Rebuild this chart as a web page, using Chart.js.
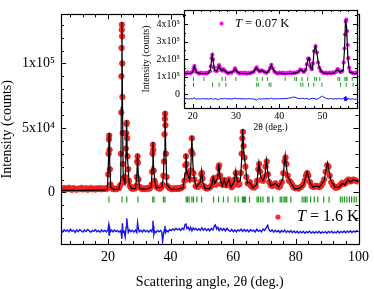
<!DOCTYPE html>
<html>
<head>
<meta charset="utf-8">
<script src="https://cdn.jsdelivr.net/npm/chart.js@4/dist/chart.umd.min.js"></script>
<style>
  body { margin: 0; background: #fff; }
  #wrap { position: relative; width: 374px; height: 289px; }
  canvas { display: block; }
  #inset { position: absolute; left: 138px; top: 0; }
</style>
</head>
<body>
<div id="wrap">
  <canvas id="main" width="374" height="289"></canvas>
  <canvas id="inset" width="226" height="136"></canvas>
</div>
<script>
// ---- main pattern, T = 1.6 K (intensity in thousands of counts) ----
const obsMain = [
  [5,3.1],[5.5,2.4],[6,3.4],[6.5,2.2],[7,2.9],[7.5,3.6],[8,2.5],[8.5,2.1],[9,3.3],[9.5,2.7],[10,2.0],[10.5,3.0],
  [11,2.6],[11.5,3.5],[12,2.3],[12.5,2.8],[13,3.2],[13.5,2.1],[14,2.7],[14.5,3.4],[15,2.4],[15.5,2.9],[16,2.2],
  [16.5,3.1],[17,2.6],[17.5,3.3],[18,2.4],[18.5,2.9],[19,3.0],[19.5,2.6],
  [19.9,3.5],[20.1,14],[20.2,30],[20.3,41],[20.4,44],[20.5,33],[20.6,18],[20.8,6],[21.2,3.4],[21.6,2.6],[22,2.9],
  [22.5,2.4],[23,3.1],[23.5,3.3],[23.9,5.5],[24.15,30],[24.25,62],[24.3,90],[24.35,112],[24.4,126],[24.45,130],
  [24.5,121],[24.55,100],[24.6,74],[24.7,46],[24.8,22],[24.95,11],[25.2,8],[25.5,12],[25.7,34],[25.8,46],[25.9,53],
  [26.0,54],[26.1,42],[26.25,28],[26.45,18],[26.7,9],[27.0,5],[27.4,3.5],[27.8,2.8],[28.2,3.4],[28.6,3.0],[29.0,5],
  [29.2,12],[29.35,24],[29.45,28],[29.55,23],[29.75,10],[30.0,4.5],[30.5,3.2],[31,2.6],[31.5,3.1],[32,2.5],[32.5,3.3],
  [33,2.8],[33.5,3.6],[33.9,6],[34.1,16],[34.25,30],[34.35,37],[34.45,33],[34.6,17],[34.85,9],[35.1,7],[35.5,4.2],
  [36,3.5],[36.5,2.9],[37,3.8],[37.4,6],[37.7,13],[37.9,24],[38.05,45],[38.15,57],[38.25,61],[38.35,52],[38.5,30],
  [38.7,12],[39,5],[39.5,3.6],[40,3],[40.5,2.5],[41,3.2],[41.5,2.7],[42,3.4],[42.5,2.6],[43,3.1],[43.5,3.6],[44,4.5],
  [44.4,9],[44.7,21],[44.9,28],[45.1,22],[45.4,14],[45.7,12],[46.1,10],[46.4,17],[46.6,32],[46.8,42],[47,30],[47.3,15],
  [47.6,10],[48,5],[48.5,4.3],[49,4.6],[49.5,8],[49.8,14],[50,15],[50.2,11],[50.6,5],[51,3.8],[51.5,3.0],[52,3.4],
  [52.5,3.8],[53,5.2],[53.4,9],[53.7,11],[54,8],[54.5,6],[55,12],[55.3,19],[55.5,21],[55.8,13],[56.2,6.5],[56.6,6],
  [57,9.5],[57.3,9],[57.8,5.5],[58.2,7],[58.6,10],[59,7],[59.5,4],[60,5.5],[60.4,10],[60.8,15],[61.2,10],[61.6,6],
  [62,6.5],[62.4,15],[62.7,30],[62.9,42],[63.1,47],[63.3,36],[63.6,27],[63.9,20],[64.2,12],[64.6,7],[65,7],[65.3,8],
  [65.7,5],[66.2,4],[66.7,3.8],[67.2,5],[67.6,9],[68,18],[68.3,22],[68.6,16],[69,10],[69.5,9],[69.9,12],[70.3,20],
  [70.7,24],[71.1,14],[71.5,8],[72,5.5],[72.5,5],[73,6],[73.5,7],[74,5],[74.5,4],[75,5],[75.5,8],[76,15],[76.4,24],
  [76.7,27],[77,22],[77.4,13],[77.8,9],[78.3,8],[78.8,6],[79.3,4],[79.8,3.2],[80.3,3.6],[80.8,3.0],[81.3,3.8],
  [81.8,4.5],[82.3,6],[82.8,9],[83.2,13],[83.6,15],[84,13],[84.5,8],[85,5],[85.5,4.2],[86,4.6],[86.5,5.2],[87,4.5],
  [87.5,4.1],[88,5],[88.5,7],[89,10],[89.5,16],[90,21],[90.4,20],[90.8,13],[91.3,8],[91.8,5.5],[92.3,4.3],[92.8,3.6],
  [93.3,4],[93.8,4.8],[94.3,6],[94.8,7.5],[95.3,6.5],[95.8,7],[96.3,9],[96.8,10],[97.3,8.5],[97.8,9],[98.3,10],
  [98.8,9.5],[99.3,9],[99.8,8.5]
];
const calcMain = [
  [5,1.5],[8,1.5],[12,1.6],[16,1.7],[19,1.8],[19.8,2.5],[20.15,23],[20.35,46],[20.55,23],[20.9,4],[22,2.2],[23.5,2.6],
  [24.1,10],[24.25,66],[24.45,132],[24.65,66],[24.85,12],[25.4,7],[25.75,28],[25.95,56],[26.15,30],[26.5,17],[26.8,6],
  [27.5,3],[28.8,3],[29.25,15],[29.45,30],[29.65,15],[30.1,3],[32,2.3],[33.8,4],[34.15,20],[34.35,39],[34.55,20],
  [35.0,8],[35.5,3.5],[37.2,4],[37.7,12],[37.95,32],[38.2,63],[38.45,32],[38.8,6],[40,2.5],[42,2.2],[44,3.5],
  [44.6,15],[44.9,30],[45.2,17],[45.6,13],[46.1,9],[46.5,22],[46.8,44],[47.1,22],[47.5,11],[48.2,4],[49.5,8],
  [49.9,17],[50.3,8],[51,3],[52.5,3],[53.2,6],[53.6,12],[54.1,7],[55,11],[55.4,22],[55.8,11],[56.5,5],[57.1,10],
  [57.7,5],[58.6,10],[59.3,4],[60.3,8],[60.8,17],[61.3,8],[62.3,9],[62.7,26],[63.0,49],[63.4,30],[63.9,21],[64.5,7],
  [65.3,8],[66.2,3.5],[67.5,6],[68.2,23],[68.8,12],[69.5,9],[70.1,13],[70.6,25],[71.2,12],[72,5],[73.5,7],[74.5,4],
  [75.8,10],[76.6,29],[77.3,13],[78.3,8],[79.5,3],[81,3],[82.5,6],[83.6,16],[84.6,7],[85.5,4],[86.5,5],[87.5,4],
  [89,9],[90.1,23],[91.1,10],[92.5,4],[93.8,4],[94.8,7],[95.7,6],[96.6,10],[97.5,8],[98.3,10],[99.2,9],[100,8]
];
const diffMain = [
  [5,-29.5],[5.5,-30.8],[6,-28.9],[6.5,-30.2],[7,-29.1],[7.5,-30.6],[8,-28.6],[8.5,-30.1],[9,-29.3],[9.5,-31],
  [10,-29],[10.5,-30.4],[11,-28.8],[11.5,-29.9],[12,-30.7],[12.5,-29.2],[13,-30.3],[13.5,-28.7],[14,-29.8],[14.5,-30.9],
  [15,-29.4],[15.5,-30.2],[16,-28.9],[16.5,-30.5],[17,-29.6],[17.5,-30.8],[18,-29.1],[18.5,-30.3],[19,-29.5],
  [19.5,-30.6],[20,-29],[20.2,-26],[20.35,-33],[20.5,-27],[20.8,-30.5],[21.2,-29.3],[21.6,-30.6],[22,-29.2],
  [22.5,-30.4],[23,-29.5],[23.5,-30.8],[24,-29.7],[24.3,-33],[24.45,-36],[24.6,-24],[24.8,-31],[25.1,-29.4],
  [25.5,-34.5],[25.8,-27],[26.0,-20],[26.2,-25],[26.5,-31],[26.9,-29],[27.3,-30.5],[27.8,-29.4],[28.3,-30.8],
  [28.8,-29.2],[29.2,-31],[29.45,-23.5],[29.7,-28],[30,-30.5],[30.5,-29.3],[31,-30.7],[31.5,-29],[32,-30.5],
  [32.5,-29.5],[33,-30.8],[33.5,-29.2],[34,-30.5],[34.2,-28],[34.35,-22],[34.5,-26],[34.65,-32.5],[34.9,-30],
  [35.3,-31.2],[35.8,-29.5],[36.3,-30.6],[36.8,-29.4],[37.2,-31],[37.45,-38],[37.7,-33],[38.0,-29],[38.2,-26],
  [38.4,-31],[38.7,-29.5],[39.2,-30.6],[39.7,-28.8],[40.2,-29.6],[40.7,-28.4],[41.2,-29.3],[41.7,-27.8],[42.2,-29.1],
  [42.7,-28.2],[43.2,-29.4],[43.7,-27.6],[44.2,-28.9],[44.6,-25],[44.9,-24],[45.2,-28],[45.6,-27],[46,-29.2],
  [46.4,-27.1],[46.8,-29.8],[47.2,-27.5],[47.6,-28.9],[48,-27.8],[48.5,-29.3],[49,-28.1],[49.5,-29.4],[50,-27.4],
  [50.5,-29.2],[51,-28],[51.5,-29.6],[52,-28.2],[52.5,-29.7],[53,-27.9],[53.5,-29.1],[54,-26],[54.3,-25.2],
  [54.7,-28.5],[55.1,-27],[55.5,-29.6],[56,-27.7],[56.5,-29.4],[57,-28],[57.5,-29.8],[58,-27.8],[58.5,-29.3],
  [59,-30.2],[59.5,-28.7],[60,-30.4],[60.5,-29.1],[61,-30.6],[61.5,-28.9],[62,-29.9],[62.5,-28.5],[63,-30.3],
  [63.5,-28.7],[64,-30.2],[64.5,-29],[65,-30.6],[65.5,-28.8],[66,-30],[66.5,-29.2],[67,-30.7],[67.5,-28.6],
  [68,-30.1],[68.5,-29.3],[69,-30.6],[69.5,-28.4],[70,-29.5],[70.5,-27.5],[71,-25.5],[71.4,-28.9],[71.9,-30.3],
  [72.4,-29.1],[72.9,-30.8],[73.4,-29.3],[73.9,-30.5],[74.4,-29.6],[74.9,-31.1],[75.4,-29.5],[75.9,-30.7],
  [76.4,-29.2],[76.9,-31],[77.4,-29.8],[77.9,-30.9],[78.4,-29.6],[78.9,-31.2],[79.4,-30],[79.9,-31.3],[80.4,-30.1],
  [80.9,-31.5],[81.4,-30.3],[81.9,-31.4],[82.4,-30.2],[82.9,-31.6],[83.4,-30.4],[83.9,-31.2],[84.4,-30.1],
  [84.9,-31.5],[85.4,-30.4],[85.9,-31.7],[86.4,-30.5],[86.9,-31.4],[87.4,-30.2],[87.9,-31.6],[88.4,-30.6],
  [88.9,-31.3],[89.4,-30.4],[89.9,-31.6],[90.4,-30.3],[90.9,-31.2],[91.4,-30.1],[91.9,-31.5],[92.4,-30.5],
  [92.9,-31.3],[93.4,-30],[93.9,-31.4],[94.4,-30.3],[94.9,-31.1],[95.4,-29.9],[95.9,-31.2],[96.4,-30.1],
  [96.9,-30.9],[97.4,-29.8],[97.9,-31.1],[98.4,-30],[98.9,-30.8],[99.4,-29.7],[99.9,-30.5]
];
const braggMain = [20.3,24.5,26.0,29.6,34.3,34.7,37.7,38.2,45.0,45.4,45.9,46.8,47.3,48.4,49.9,53.7,55.3,56.9,58.3,
  60.6,61.6,62.9,63.3,63.6,63.9,65.2,67.6,68.1,68.8,69.5,71.0,71.4,72.6,75.0,75.5,76.2,76.6,77.1,78.4,82.0,82.6,
  83.1,83.6,84.7,85.9,87.0,88.9,90.6,94.2,94.8,95.5,96.3,97.1,97.8,98.6,99.3];
const braggMainLevel = -5.5;
const xTicksMain = [20, 40, 60, 80, 100];
const yTicksMain = [0, 50, 100];
const yLabelsMain = ['0', '5x10\u2074', '1x10\u2075'];

// ---- inset, T = 0.07 K ----
const obsInset = [
  [18.0,122],[18.4,115],[18.8,124],[19.2,118],[19.6,121],[20.0,128],[20.2,146],[20.4,160],[20.6,141],[20.8,127],
  [21.2,121],[21.6,116],[22.0,123],[22.4,118],[22.8,121],[23.2,116],[23.6,124],[24.0,130],[24.2,158],[24.4,205],
  [24.55,224],[24.7,196],[24.9,152],[25.2,133],[25.6,131],[25.9,152],[26.1,165],[26.3,149],[26.6,136],[26.9,133],
  [27.1,143],[27.4,135],[27.8,124],[28.2,119],[28.6,123],[29.0,121],[29.4,130],[29.8,147],[30.1,133],[30.5,122],
  [30.9,117],[31.3,123],[31.7,118],[32.1,122],[32.5,116],[32.9,121],[33.3,119],[33.7,124],[34.1,126],[34.5,143],
  [34.8,152],[35.1,138],[35.5,129],[35.9,135],[36.3,131],[36.7,124],[37.1,121],[37.5,130],[37.9,148],[38.2,167],
  [38.5,147],[38.9,128],[39.3,121],[39.7,117],[40.1,123],[40.5,118],[40.9,122],[41.3,116],[41.7,121],[42.1,119],
  [42.5,124],[42.9,118],[43.3,122],[43.7,120],[44.1,125],[44.5,128],[44.9,141],[45.3,136],[45.7,126],[46.1,138],
  [46.4,170],[46.7,203],[46.95,198],[47.2,158],[47.5,142],[47.8,175],[48.1,245],[48.4,272],[48.7,238],[49.0,180],
  [49.3,150],[49.6,132],[50.0,124],[50.4,119],[50.8,123],[51.2,117],[51.6,122],[52.0,118],[52.4,124],[52.8,121],
  [53.2,128],[53.5,142],[53.8,136],[54.2,126],[54.6,131],[54.9,180],[55.1,260],[55.25,340],[55.4,415],[55.55,425],
  [55.7,360],[55.85,280],[56.0,205],[56.2,150],[56.5,127],[56.9,121],[57.3,118],[57.7,123],[58.0,119]
];
const calcInset = [
  [18,117],[19.5,118],[20.0,125],[20.25,145],[20.4,158],[20.55,145],[20.9,124],[22,117],[23.5,118],[24.1,135],
  [24.35,190],[24.55,222],[24.75,185],[25.1,135],[25.6,130],[25.9,150],[26.1,162],[26.35,145],[26.8,134],[27.1,141],
  [27.45,132],[28.2,120],[29.4,128],[29.8,145],[30.2,127],[31,118],[33,117],[34.2,128],[34.7,150],[35.0,140],
  [35.5,128],[36.0,134],[36.4,128],[37.2,122],[37.8,140],[38.2,165],[38.6,140],[39.3,120],[41,117],[43,118],
  [44.2,122],[45.0,140],[45.7,125],[46.2,140],[46.6,195],[46.9,207],[47.3,150],[47.7,140],[48.1,250],[48.45,275],
  [48.8,220],[49.2,160],[49.7,130],[50.5,118],[52.5,118],[53.5,140],[54.1,125],[54.8,135],[55.1,250],[55.35,425],
  [55.6,380],[55.9,200],[56.3,125],[57.2,118],[58,117]
];
const diffInset = [
  [18,-28],[18.5,-26],[19,-29],[19.5,-27],[20,-28],[20.4,-22],[20.8,-30],[21.3,-27],[21.8,-29],[22.3,-26],[22.8,-28],
  [23.3,-27],[23.8,-29],[24.3,-25],[24.6,-31],[25.0,-27],[25.5,-28],[26.0,-33],[26.4,-26],[26.9,-28],[27.4,-25],
  [27.9,-28],[28.4,-26],[28.9,-29],[29.4,-27],[29.9,-24],[30.4,-28],[30.9,-26],[31.4,-28],[31.9,-27],[32.4,-29],
  [32.9,-26],[33.4,-28],[33.9,-27],[34.4,-31],[34.8,-35],[35.2,-27],[35.7,-29],[36.2,-27],[36.7,-28],[37.2,-26],
  [37.7,-28],[38.2,-23],[38.6,-29],[39.1,-27],[39.6,-28],[40.1,-26],[40.6,-28],[41.1,-25],[41.6,-27],[42.1,-24],
  [42.6,-22],[43.1,-19],[43.5,-17],[43.9,-21],[44.4,-25],[44.9,-27],[45.4,-24],[45.9,-28],[46.4,-25],[46.9,-31],
  [47.3,-27],[47.8,-24],[48.3,-28],[48.8,-30],[49.3,-22],[49.7,-16],[50.0,-12],[50.4,-19],[50.9,-25],[51.4,-28],
  [51.9,-26],[52.4,-29],[52.9,-27],[53.4,-28],[53.9,-26],[54.4,-29],[54.8,-27],[55.0,-20],[55.15,-37],[55.3,-15],
  [55.45,-40],[55.6,-18],[55.8,-34],[56.0,-24],[56.4,-30],[56.9,-28],[57.4,-30],[57.9,-29]
];
const braggInsetA = [20.2,22.6,26.8,27.6,30.0,34.9,36.1,37.3,41.4,43.6,44.0,45.3,46.6,48.2,48.6,49.4,53.6,54.0,
  55.2,55.5,55.7,56.9];
const braggInsetB = [20.2,24.6,26.1,27.7,34.8,35.2,37.7,38.1,45.0,45.5,46.8,48.0,49.9,54.2,55.5,57.1];
const braggInsetLevels = [86, 53];
const xTicksInset = [20, 30, 40, 50];
const yTicksInset = [0, 100, 200, 300, 400];
const yLabelsInset = ['0', '1x10\u2075', '2x10\u2075', '3x10\u2075', '4x10\u2075'];

const SERIF = "'Liberation Serif', 'Times New Roman', 'DejaVu Serif', serif";
const RED = '#ff2b2b', BLACK = '#000', BLUE = '#1414f0', GREEN = '#1c9a1c', MAGENTA = '#ee10ee';

const pts = (arr) => arr.map(([x, y]) => ({ x, y }));
const level = (xs, y) => xs.map((x) => ({ x, y }));

// frame, inward ticks on all four sides and the temperature label
const framePlugin = {
  id: 'frame',
  beforeDraw(chart, args, o) {
    const { ctx, chartArea: a } = chart;
    if (o.fill) {
      ctx.save();
      ctx.fillStyle = '#fff';
      ctx.fillRect(a.left, a.top, a.right - a.left, a.bottom - a.top);
      ctx.restore();
    }
  },
  afterDraw(chart, args, o) {
    const { ctx, chartArea: a, scales } = chart;
    const x = scales.x, y = scales.y;
    ctx.save();
    ctx.strokeStyle = '#000';
    ctx.lineWidth = 1;
    ctx.beginPath();
    const vTicks = (vals, len) => vals.forEach((v) => {
      const px = Math.round(x.getPixelForValue(v)) + 0.5;
      ctx.moveTo(px, a.bottom); ctx.lineTo(px, a.bottom - len);
      ctx.moveTo(px, a.top); ctx.lineTo(px, a.top + len);
    });
    const hTicks = (vals, len) => vals.forEach((v) => {
      const py = Math.round(y.getPixelForValue(v)) + 0.5;
      ctx.moveTo(a.left, py); ctx.lineTo(a.left + len, py);
      ctx.moveTo(a.right, py); ctx.lineTo(a.right - len, py);
    });
    const steps = (from, to, step) => { const r = []; for (let v = from; v <= to + 1e-9; v += step) r.push(v); return r; };
    vTicks(steps(o.xMinor[0], o.xMinor[1], o.xMinor[2]), o.minor);
    vTicks(o.xMajor, o.major);
    hTicks(steps(o.yMinor[0], o.yMinor[1], o.yMinor[2]), o.minor);
    hTicks(o.yMajor, o.major);
    ctx.stroke();
    ctx.lineWidth = 1.2;
    ctx.strokeRect(Math.round(a.left) + 0.5, Math.round(a.top) + 0.5,
      Math.round(a.right - a.left), Math.round(a.bottom - a.top));

    // temperature label
    const L = o.label;
    ctx.beginPath();
    ctx.arc(L.x, L.y, L.r, 0, Math.PI * 2);
    ctx.fillStyle = L.color;
    ctx.fill();
    ctx.fillStyle = '#000';
    ctx.textBaseline = 'middle';
    ctx.textAlign = 'left';
    ctx.font = `italic ${L.size}px ${SERIF}`;
    ctx.fillText('T', L.tx, L.y);
    const w = ctx.measureText('T').width;
    ctx.font = `${L.size}px ${SERIF}`;
    ctx.fillText(L.text, L.tx + w, L.y);
    ctx.restore();
  }
};

function axisX(min, max, ticks, title, fontSize, titleSize, height, pad, titlePad) {
  return {
    type: 'linear', min, max,
    afterBuildTicks: (s) => { s.ticks = ticks.map((v) => ({ value: v })); },
    afterFit: (s) => { s.height = height; },
    ticks: { color: '#000', font: { family: SERIF, size: fontSize }, padding: pad, maxRotation: 0 },
    grid: { display: false, drawTicks: false },
    border: { display: false },
    title: { display: true, text: title, color: '#000', font: { family: SERIF, size: titleSize, lineHeight: 1 },
      padding: { top: 0, bottom: titlePad } }
  };
}
function axisY(min, max, ticks, labels, title, fontSize, titleSize, width, pad, titlePad) {
  return {
    type: 'linear', min, max,
    afterBuildTicks: (s) => { s.ticks = ticks.map((v) => ({ value: v })); },
    afterFit: (s) => { s.width = width; },
    ticks: { color: '#000', font: { family: SERIF, size: fontSize }, padding: pad,
      callback: (v) => labels[ticks.indexOf(v)] },
    grid: { display: false, drawTicks: false },
    border: { display: false },
    title: { display: true, text: title, color: '#000', font: { family: SERIF, size: titleSize, lineHeight: 1 },
      padding: { top: titlePad, bottom: 0 } }
  };
}

Chart.defaults.animation = false;

new Chart(document.getElementById('main'), {
  type: 'scatter',
  data: {
    datasets: [
      { type: 'line', data: pts(calcMain), borderColor: BLACK, borderWidth: 1.2, pointRadius: 0, order: 0 },
      { data: pts(obsMain), pointRadius: 2.8, backgroundColor: RED, borderColor: '#e01010', borderWidth: 0.6, order: 1 },
      { data: level(braggMain, braggMainLevel), pointStyle: 'line', rotation: 90, pointRadius: 3,
        borderColor: GREEN, borderWidth: 1.2, order: 2 },
      { type: 'line', data: pts(diffMain), borderColor: BLUE, borderWidth: 1.4, pointRadius: 0, order: 3 }
    ]
  },
  options: {
    responsive: false,
    layout: { padding: { top: 3, right: 11, left: 0, bottom: 0 } },
    plugins: {
      legend: { display: false }, tooltip: { enabled: false },
      frame: {
        xMajor: xTicksMain, xMinor: [8, 96, 4], yMajor: yTicksMain, yMinor: [-40, 130, 10], major: 5, minor: 3,
        label: { x: 278, y: 217, r: 2.6, color: RED, tx: 297, size: 16, text: ' = 1.6 K' }
      }
    },
    scales: {
      x: axisX(5, 100, xTicksMain, 'Scattering angle, 2\u03b8 (deg.)', 14, 14, 45, 5, 0),
      y: axisY(-40, 138, yTicksMain, yLabelsMain, 'Intensity (counts)', 14, 14, 61, 6, 0)
    }
  },
  plugins: [framePlugin]
});

new Chart(document.getElementById('inset'), {
  type: 'scatter',
  data: {
    datasets: [
      { type: 'line', data: pts(calcInset), borderColor: BLACK, borderWidth: 1.2, pointRadius: 0, order: 0 },
      { data: pts(obsInset), pointRadius: 2.1, backgroundColor: MAGENTA, borderColor: MAGENTA, borderWidth: 0, order: 1 },
      { data: level(braggInsetA, braggInsetLevels[0]), pointStyle: 'line', rotation: 90, pointRadius: 2,
        borderColor: GREEN, borderWidth: 1, order: 2 },
      { data: level(braggInsetB, braggInsetLevels[1]), pointStyle: 'line', rotation: 90, pointRadius: 2,
        borderColor: GREEN, borderWidth: 1, order: 2 },
      { type: 'line', data: pts(diffInset), borderColor: BLUE, borderWidth: 1, pointRadius: 0, order: 3 }
    ]
  },
  options: {
    responsive: false,
    layout: { padding: { top: 3, right: 7, left: 0, bottom: 0 } },
    plugins: {
      legend: { display: false }, tooltip: { enabled: false },
      frame: {
        fill: true,
        xMajor: xTicksInset, xMinor: [18, 58, 2], yMajor: yTicksInset, yMinor: [-50, 450, 50], major: 4, minor: 2,
        label: { x: 83.5, y: 23.5, r: 2, color: MAGENTA, tx: 97, size: 12.5, text: ' = 0.07 K' }
      }
    },
    scales: {
      x: axisX(18, 58, xTicksInset, '2\u03b8 (deg.)', 10, 9.5, 28, 2, 4),
      y: axisY(-80, 480, yTicksInset, yLabelsInset, 'Intensity (counts)', 10, 9.5, 46, 4, 4)
    }
  },
  plugins: [framePlugin]
});
</script>
</body>
</html>
